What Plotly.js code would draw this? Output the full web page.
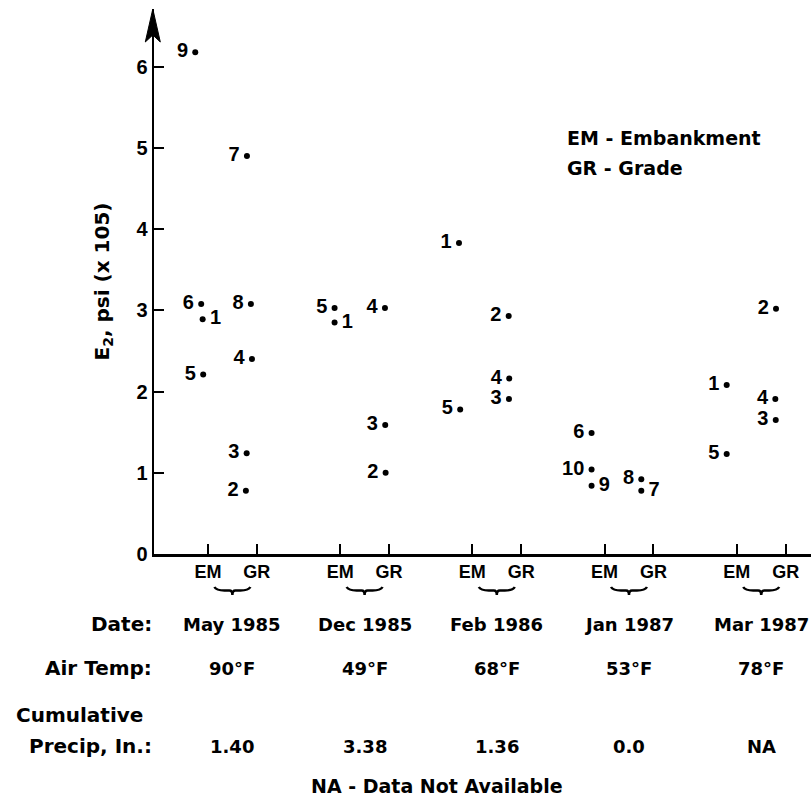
<!DOCTYPE html>
<html><head><meta charset="utf-8">
<script src="https://cdn.plot.ly/plotly-3.0.1.min.js"></script>
<style>html,body{margin:0;padding:0;background:#fff}</style>
</head><body><div id="chart" style="width:811px;height:801px"></div>
<script>
// ---- data ----
const dates   = ['May 1985', 'Dec 1985', 'Feb 1986', 'Jan 1987', 'Mar 1987'];
const airTemp = ['90°F', '49°F', '68°F', '53°F', '78°F'];
const precip  = ['1.40', '3.38', '1.36', '0.0', 'NA'];
const sites   = ['EM', 'GR'];

// E2 (x 10^5 psi) by location number; x = position on the date/site axis
const may85Id = ['9', '6', '1', '5', '7', '8', '4', '3', '2'];
const may85X  = [-0.096, -0.051, -0.040, -0.036, 0.295, 0.325, 0.333, 0.293, 0.287];
const may85E2 = [6.18, 3.08, 2.89, 2.21, 4.90, 3.08, 2.40, 1.24, 0.78];

const dec85Id = ['5', '1', '4', '3', '2'];
const dec85X  = [0.958, 0.958, 1.339, 1.341, 1.344];
const dec85E2 = [3.03, 2.85, 3.03, 1.59, 1.00];

const feb86Id = ['1', '5', '2', '4', '3'];
const feb86X  = [1.899, 1.908, 2.275, 2.279, 2.277];
const feb86E2 = [3.83, 1.78, 2.93, 2.16, 1.91];

const jan87Id = ['6', '10', '9', '8', '7'];
const jan87X  = [2.902, 2.902, 2.902, 3.278, 3.278];
const jan87E2 = [1.49, 1.04, 0.84, 0.92, 0.78];

const mar87Id = ['1', '5', '2', '4', '3'];
const mar87X  = [3.924, 3.924, 4.297, 4.292, 4.295];
const mar87E2 = [2.08, 1.23, 3.02, 1.91, 1.65];

// labels written to the right of their dot (style)
const rightLabelled = {'May 1985': ['1'], 'Dec 1985': ['1'], 'Jan 1987': ['9', '7']};

// ---- layout constants ----
const W = 811, H = 801;
const M = {l: 154, r: 0, t: 9, b: 247};
const PW = W - M.l - M.r, PH = H - M.t - M.b;
const GR_SHIFT = 0.37;
const XR = [-0.408, -0.408 + PW / 132.2];
const YR = [0, PH / 81.2];
const FONT_D = 'DejaVu Sans';
const FONT_L = 'Liberation Sans';
const bottomPx = M.t + PH;
const py = p => (bottomPx - p) / PH;          // pixel row -> paper y
const pxX = v => (v - XR[0]) / (XR[1] - XR[0]); // axis x -> paper x

const groups = [
  [may85Id, may85X, may85E2],
  [dec85Id, dec85X, dec85E2],
  [feb86Id, feb86X, feb86E2],
  [jan87Id, jan87X, jan87E2],
  [mar87Id, mar87X, mar87E2]
];

const traces = [];
groups.forEach((g, i) => {
  const [ids, xs, ys] = g;
  const right = rightLabelled[dates[i]] || [];
  traces.push({
    type: 'scatter', mode: 'markers', x: xs, y: ys,
    marker: {size: 6, color: '#000'}, hoverinfo: 'skip', showlegend: false, cliponaxis: false
  });
  traces.push({
    type: 'scatter', mode: 'markers+text', x: xs, y: ys, text: ids,
    textposition: ids.map(id => right.includes(id) ? 'middle right' : 'middle left'),
    textfont: {family: FONT_L, size: 20, weight: 'bold', color: '#000'},
    marker: {size: 10, opacity: 0}, hoverinfo: 'skip', showlegend: false, cliponaxis: false
  });
});

const tickVals = [], tickText = [];
dates.forEach((d, i) => {
  tickVals.push(i, i + GR_SHIFT);
  tickText.push(sites[0], sites[1]);
});

const ann = [];
const rowY = {date: py(624), temp: py(668), cum: py(715), prec: py(746), note: py(786)};
const labFont = {family: FONT_D, size: 20, weight: 'bold', color: '#000'};
const valFont = {family: FONT_D, size: 18, weight: 'bold', color: '#000'};
[['Date:', rowY.date, 0], ['Air Temp:', rowY.temp, 0], ['Cumulative', rowY.cum, -9 / PW], ['Precip, In.:', rowY.prec, 0]]
  .forEach(([t, y, x]) => ann.push({xref: 'paper', yref: 'paper', x: x, y: y, xanchor: 'right', yanchor: 'middle',
    text: t, showarrow: false, font: labFont}));
dates.forEach((d, i) => {
  const cx = i + GR_SHIFT / 2;
  ann.push({xref: 'x', yref: 'paper', x: cx, y: rowY.date, text: d, showarrow: false, font: valFont, xanchor: 'center', yanchor: 'middle'});
  ann.push({xref: 'x', yref: 'paper', x: cx, y: rowY.temp, text: airTemp[i], showarrow: false, font: valFont, xanchor: 'center', yanchor: 'middle'});
  ann.push({xref: 'x', yref: 'paper', x: cx, y: rowY.prec, text: precip[i], showarrow: false, font: valFont, xanchor: 'center', yanchor: 'middle'});
});
ann.push({xref: 'paper', yref: 'paper', x: (437 - M.l) / PW, y: rowY.note, text: 'NA - Data Not Available',
  showarrow: false, font: {family: FONT_D, size: 19, weight: 'bold', color: '#000'}, xanchor: 'center', yanchor: 'middle'});
// key
ann.push({xref: 'paper', yref: 'paper', x: (565 - M.l) / PW, y: py(138), text: 'EM - Embankment', showarrow: false,
  font: {family: FONT_D, size: 19, weight: 'bold', color: '#000'}, xanchor: 'left', yanchor: 'middle'});
ann.push({xref: 'paper', yref: 'paper', x: (565 - M.l) / PW, y: py(168), text: 'GR - Grade', showarrow: false,
  font: {family: FONT_D, size: 19, weight: 'bold', color: '#000'}, xanchor: 'left', yanchor: 'middle'});

// braces under each EM/GR pair
const shapes = [];
const bp = (cx, dxPx, dyPx) => (pxX(cx) + dxPx / PW).toFixed(5) + ',' + py(587 + dyPx).toFixed(5);
dates.forEach((d, i) => {
  const cx = i + GR_SHIFT / 2;
  const path = 'M' + bp(cx, -18, 0) + ' Q' + bp(cx, -16, 3.5) + ' ' + bp(cx, -8, 3.5) +
    ' L' + bp(cx, -3, 3.5) + ' Q' + bp(cx, 0, 3.5) + ' ' + bp(cx, 0, 8) +
    ' Q' + bp(cx, 0, 3.5) + ' ' + bp(cx, 3, 3.5) + ' L' + bp(cx, 8, 3.5) +
    ' Q' + bp(cx, 16, 3.5) + ' ' + bp(cx, 18, 0);
  shapes.push({type: 'path', xref: 'paper', yref: 'paper', path: path, line: {color: '#000', width: 2.5}});
});
// arrow head on y axis
const ax0 = -1.2 / PW;
const ah = (dx, dy) => (ax0 + dx / PW).toFixed(5) + ',' + (1 - dy / PH).toFixed(5);
shapes.push({type: 'path', xref: 'paper', yref: 'paper',
  path: 'M' + ah(0, 0) + ' L' + ah(7.5, 33) + ' L' + ah(0, 26) + ' L' + ah(-7.5, 33) + ' Z',
  fillcolor: '#000', line: {color: '#000', width: 1}});

const layout = {
  width: W, height: H, margin: M,
  paper_bgcolor: '#fff', plot_bgcolor: '#fff',
  showlegend: false,
  font: {family: FONT_D, color: '#000'},
  xaxis: {
    range: XR, showgrid: false, zeroline: false, showline: true, linecolor: '#000', linewidth: 2.5,
    tickmode: 'array', tickvals: tickVals, ticktext: tickText,
    ticks: 'inside', ticklen: 10, tickwidth: 2, tickcolor: '#000',
    tickfont: {family: FONT_L, size: 18, weight: 'bold', color: '#000'}
  },
  yaxis: {
    range: YR, showgrid: false, zeroline: false, showline: true, linecolor: '#000', linewidth: 2.5,
    tickmode: 'array', tickvals: [0, 1, 2, 3, 4, 5, 6],
    ticks: 'inside', ticklen: 10, tickwidth: 2, tickcolor: '#000',
    tickfont: {family: FONT_L, size: 20, weight: 'bold', color: '#000'},
    title: {text: 'E<sub>2</sub>, psi (x 105)', font: {family: FONT_D, size: 20, weight: 'bold', color: '#000'}, standoff: 22}
  },
  annotations: ann,
  shapes: shapes
};

Plotly.newPlot('chart', traces, layout, {displayModeBar: false, staticPlot: true});
</script></body></html>
